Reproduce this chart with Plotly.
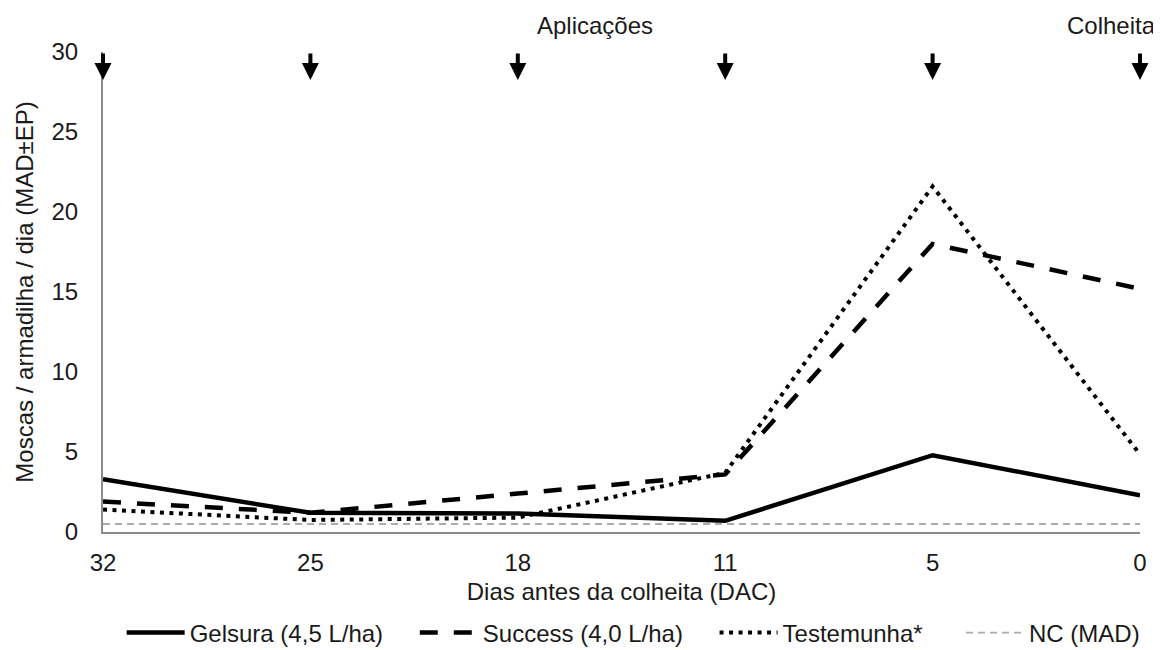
import plotly.graph_objects as go

dias = ["32", "25", "18", "11", "5", "0"]
gelsura = [3.3, 1.2, 1.15, 0.7, 4.8, 2.3]
success = [1.9, 1.2, 2.4, 3.6, 18.0, 15.2]
testemunha = [1.4, 0.75, 0.9, 3.7, 21.6, 4.85]
nc = [0.5, 0.5, 0.5, 0.5, 0.5, 0.5]
y_ticks = [0, 5, 10, 15, 20, 25, 30]
nomes = ["Gelsura (4,5 L/ha)", "Success (4,0 L/ha)", "Testemunha*", "NC (MAD)"]

xpos = list(range(len(dias)))
FONT = "Liberation Sans, Arial, sans-serif"
FS = 24
TXT = "#1a1a1a"
NB = "\u00a0"

fig = go.Figure()
fig.add_trace(go.Scatter(x=xpos, y=gelsura, mode="lines", name=nomes[0] + NB * 4,
                         line=dict(color="black", width=4.5)))
fig.add_trace(go.Scatter(x=xpos, y=success, mode="lines", name=nomes[1] + NB * 4,
                         line=dict(color="black", width=4.5, dash="18px,16px")))
fig.add_trace(go.Scatter(x=xpos, y=testemunha, mode="lines", name=nomes[2] + NB * 5,
                         line=dict(color="black", width=4, dash="4px,5.5px")))
fig.add_trace(go.Scatter(x=xpos, y=nc, mode="lines", name=nomes[3],
                         line=dict(color="#ababab", width=1.8, dash="7px,5px")))

annotations = []
for i in xpos:
    annotations.append(dict(x=i, y=28.25, xref="x", yref="y", text="", showarrow=True,
                            ax=0, ay=-28, arrowhead=2, arrowsize=0.85, arrowwidth=4,
                            arrowcolor="black"))
annotations.append(dict(x=2.5, y=1, xref="x", yref="paper", text="Aplicações",
                        showarrow=False, xanchor="center", yanchor="middle",
                        xshift=-27, yshift=27, font=dict(size=FS, color=TXT, family=FONT)))
annotations.append(dict(x=5, y=1, xref="x", yref="paper", text="Colheita",
                        showarrow=False, xanchor="right", yanchor="middle",
                        xshift=18, yshift=27, font=dict(size=FS, color=TXT, family=FONT)))

fig.update_layout(
    width=1153, height=642,
    margin=dict(l=95, r=21, t=44, b=118, autoexpand=False),
    paper_bgcolor="white", plot_bgcolor="white",
    font=dict(family=FONT, size=FS, color=TXT),
    showlegend=True,
    legend=dict(orientation="h", x=0.018, xanchor="left", y=-101 / 480, yanchor="middle",
                font=dict(size=FS, family=FONT, color=TXT), itemwidth=58,
                tracegroupgap=0, bgcolor="rgba(0,0,0,0)"),
    annotations=annotations,
    xaxis=dict(range=[0, 5], tickmode="array", tickvals=xpos, ticktext=dias,
               showgrid=False, zeroline=False, showline=True, linecolor="#8c8c8c",
               linewidth=2, ticks="", tickfont=dict(size=FS), ticklabelstandoff=8,
               title=dict(text="Dias antes da colheita (DAC)", font=dict(size=FS), standoff=8)),
    yaxis=dict(range=[0, 30], tickmode="array", tickvals=y_ticks,
               showgrid=False, zeroline=False, showline=True, linecolor="#8c8c8c",
               linewidth=2, ticks="", tickfont=dict(size=FS), ticklabelstandoff=18,
               title=dict(text="Moscas / armadilha / dia (MAD±EP)", font=dict(size=FS), standoff=11)),
)

fig.write_html("out.html")
